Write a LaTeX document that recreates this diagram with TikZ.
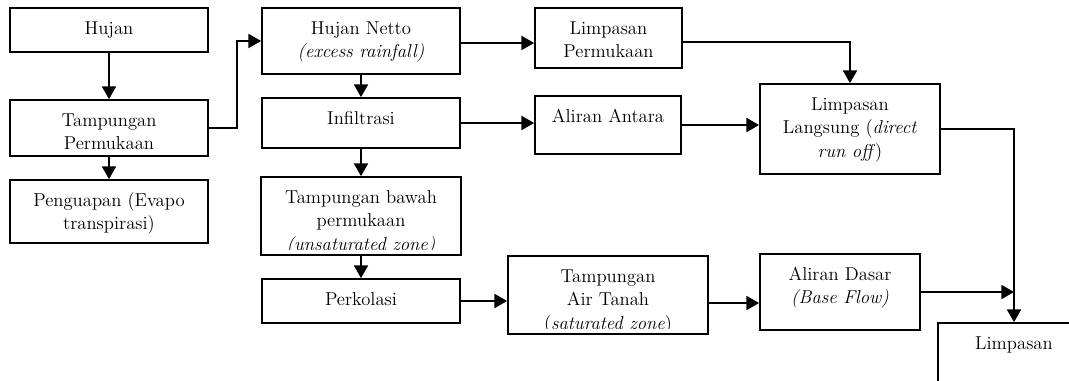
\documentclass[tikz,border=0pt]{standalone}
\usetikzlibrary{arrows.meta,calc}
\tikzset{
  boxst/.style={draw, line width=1.3pt, inner sep=0pt, rectangle},
  txtst/.style={align=center, inner sep=0pt, font=\fontsize{14}{17.5}\selectfont},
  arr/.style={line width=1.3pt, -{Triangle[length=9.5pt,width=10.5pt]}},
}
\newcommand\mkbox[6]{%
  \node[boxst, minimum width={(#4-#2)*0.75pt}, minimum height={(#5-#3)*0.75pt}] (#1) at ({(#2+#4)/2},{(#3+#5)/2}) {};
  \begin{scope}
    \clip (#2,#3) rectangle (#4,{#5-6});
    \node[txtst, anchor=north] (#1t) at ({(#2+#4)/2},{#3+8.2}) {\rule{0pt}{13.5pt}#6};
  \end{scope}
}
\begin{document}
\begin{tikzpicture}[x=0.75pt,y=-0.75pt]
\useasboundingbox (0,0) rectangle (1069,381);
\clip (0,0) rectangle (1069,381);
\mkbox{hujan}{10}{8}{208}{52}{Hujan}
\mkbox{tamp}{10}{100}{208}{156}{Tampungan\\Permukaan}
\mkbox{peng}{10}{180}{208}{243}{Penguapan (Evapo\\transpirasi)}
\mkbox{netto}{262}{8}{460}{74}{Hujan Netto\\\textit{(excess rainfall)}}
\mkbox{infil}{262}{98}{460}{148}{Infiltrasi}
\mkbox{tbawah}{261}{177}{461}{255}{Tampungan bawah\\permukaan\\\textit{(unsaturated zone)}}
\mkbox{perk}{262}{279}{460}{323}{Perkolasi}
\mkbox{lperm}{535}{8}{682}{68}{Limpasan\\Permukaan}
\mkbox{antara}{535}{96}{681}{154}{Aliran Antara}
\mkbox{llang}{760}{84}{940}{174}{Limpasan\\Langsung (\textit{direct}\\\textit{run off})}
\mkbox{tat}{508}{256}{708}{334}{Tampungan\\Air Tanah\\(\textit{saturated zone})}
\mkbox{adasar}{760}{254}{920}{330}{Aliran Dasar\\\textit{(Base Flow)}}
\mkbox{limp}{938}{323}{1090}{420}{Limpasan}

\draw[arr] (hujan.south) -- (tamp.north);
\draw[arr] (tamp.south) -- (peng.north);
\draw[arr] (tamp.east) -- ++(28,0) |- (netto.west);
\draw[arr] (netto.south) -- (infil.north);
\draw[arr] (infil.south) -- (tbawah.north);
\draw[arr] (tbawah.south) -- (perk.north);
\draw[arr] ($(netto.east)+(0,2)$) -- ($(netto.east -| lperm.west)+(0,2)$);
\draw[arr] (infil.east) -- (infil.east -| antara.west);
\draw[arr] (antara.east) -- (antara.east -| llang.west);
\draw[arr] ($(lperm.east)+(0,4)$) -| (llang.north);
\draw[arr] (llang.east) -| (limp.north);
\draw[arr] (perk.east) -- (perk.east -| tat.west);
\draw[arr] ($(tat.east)+(0,8)$) -- ($(tat.east -| adasar.west)+(0,8)$);
\draw[arr] (adasar.east) -- (adasar.east -| limp.north);
\end{tikzpicture}
\end{document}
